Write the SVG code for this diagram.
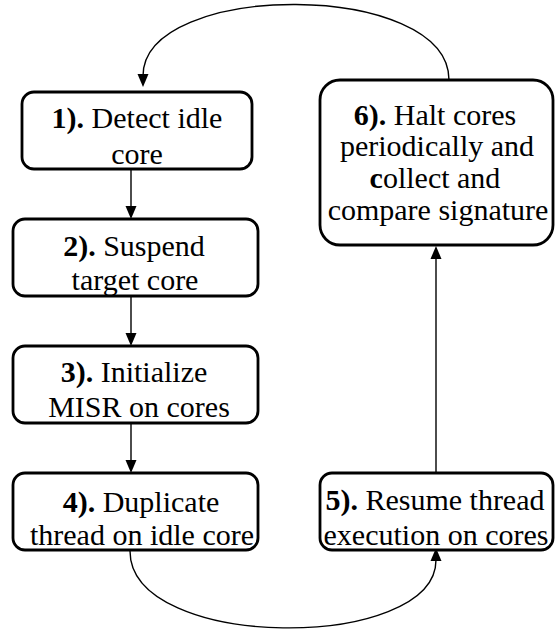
<svg xmlns="http://www.w3.org/2000/svg" width="555" height="630" viewBox="0 0 555 630">
  <defs>
    <!-- arrowhead, tip at the origin, pointing down -->
    <path id="head" d="M0,0 L-5.5,-13 L5.5,-13 Z" fill="#000000"/>
  </defs>

  <!-- flow connectors -->
  <g id="connectors">
    <g fill="none" stroke="#000000" stroke-width="1.4">
      <path d="M131,169 L131,208"/>
      <path d="M131,296 L131,335"/>
      <path d="M131,423 L131,462"/>
      <path d="M130,551 C130,652 436,652 436,560"/>
      <path d="M436,473 L436,258"/>
      <path d="M449,80 C449,-20 143,-20 143,76"/>
    </g>
    <use href="#head" transform="translate(131,219)"/>
    <use href="#head" transform="translate(131,346)"/>
    <use href="#head" transform="translate(131,473)"/>
    <use href="#head" transform="translate(436,548) rotate(180)"/>
    <use href="#head" transform="translate(436,246) rotate(180)"/>
    <use href="#head" transform="translate(143,87)"/>
  </g>

  <!-- step boxes: regular words first, bold step numbers as their own runs -->
  <g font-family="Liberation Serif, Tinos, Times New Roman, serif" font-size="30" fill="#000000">
    <g id="step1">
      <rect x="22" y="92" width="230" height="77" rx="12" fill="#ffffff" stroke="#000000" stroke-width="2.8"/>
      <text x="137" y="164" text-anchor="middle">core</text>
      <text x="91.6" y="128">Detect idle</text>
      <text x="51.6" y="128" font-weight="bold">1).</text>
    </g>

    <g id="step2">
      <rect x="13" y="219" width="245" height="77" rx="12" fill="#ffffff" stroke="#000000" stroke-width="2.8"/>
      <text x="135" y="290" text-anchor="middle">target core</text>
      <text x="103.2" y="256">Suspend</text>
      <text x="63.2" y="256" font-weight="bold">2).</text>
    </g>

    <g id="step3">
      <rect x="13" y="346" width="245" height="77" rx="12" fill="#ffffff" stroke="#000000" stroke-width="2.8"/>
      <text x="139" y="417" text-anchor="middle">MISR on cores</text>
      <text x="100.7" y="382">Initialize</text>
      <text x="60.7" y="382" font-weight="bold">3).</text>
    </g>

    <g id="step4">
      <rect x="13" y="473" width="245" height="77" rx="12" fill="#ffffff" stroke="#000000" stroke-width="2.8"/>
      <text x="142" y="545" text-anchor="middle">thread on idle core</text>
      <text x="102.7" y="512">Duplicate</text>
      <text x="62.7" y="512" font-weight="bold">4).</text>
    </g>

    <g id="step5">
      <rect x="320" y="473" width="233" height="77" rx="12" fill="#ffffff" stroke="#000000" stroke-width="2.8"/>
      <text x="436" y="545" text-anchor="middle">execution on cores</text>
      <text x="365.4" y="510">Resume thread</text>
      <text x="325.4" y="510" font-weight="bold">5).</text>
    </g>

    <g id="step6">
      <rect x="320" y="80" width="233" height="165" rx="20" fill="#ffffff" stroke="#000000" stroke-width="2.8"/>
      <text x="437" y="156" text-anchor="middle">periodically and</text>
      <text x="438" y="220" text-anchor="middle">compare signature</text>
      <text x="393.8" y="125">Halt cores</text>
      <text x="382.9" y="188">ollect and</text>
      <text x="353.8" y="125" font-weight="bold">6).</text>
      <text x="369.6" y="188" font-weight="bold">c</text>
    </g>
  </g>
</svg>
